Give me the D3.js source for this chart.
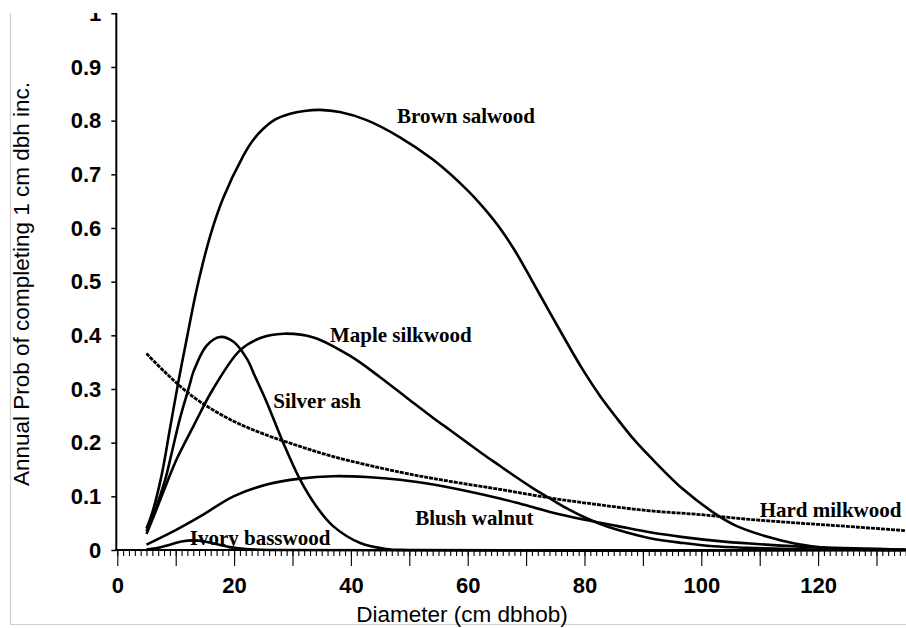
<!DOCTYPE html>
<html>
<head>
<meta charset="utf-8">
<script src="https://cdn.jsdelivr.net/npm/d3@7"></script>
<style>
  body { margin: 0; background: #fff; }
  svg { display: block; }
</style>
</head>
<body>
<svg id="chart"></svg>
<script>
// curve values: [diameter cm, annual prob]
var brownSalwood = [[5,0.04],[6,0.07],[7.6,0.14],[9,0.225],[10.4,0.31],[11.9,0.394],[13.6,0.486],[15.9,0.585],[18.1,0.655],[21.5,0.733],[23.2,0.763],[24.9,0.784],[27,0.802],[29.6,0.813],[32,0.818],[34.7,0.82],[38.1,0.816],[42.7,0.801],[48.4,0.769],[54.1,0.727],[59.8,0.672],[62.7,0.638],[65.5,0.6],[68.4,0.552],[71.2,0.498],[74.1,0.442],[76.9,0.388],[79.7,0.336],[82.6,0.288],[85.5,0.246],[88.3,0.208],[91.2,0.174],[96.9,0.113],[102.6,0.066],[106,0.045],[111.2,0.025],[116,0.012],[122,0.003],[130,0],[135,0]];
var mapleSilkwood = [[5,0.03],[6.5,0.07],[8.7,0.131],[10.2,0.17],[13,0.23],[16.4,0.3],[21,0.372],[24.5,0.395],[28.5,0.403],[33.6,0.396],[39.8,0.362],[45,0.322],[50,0.28],[54.1,0.246],[56.9,0.224],[59.8,0.201],[62.7,0.178],[65.5,0.157],[68.4,0.135],[71.2,0.115],[74.1,0.096],[76.9,0.078],[79.8,0.062],[82.6,0.049],[85.5,0.038],[91.2,0.022],[96.9,0.013],[102,0.007],[108,0.004],[120,0.001],[135,0]];
var silverAsh = [[5,0.035],[6.5,0.075],[8.2,0.131],[9.3,0.18],[10.7,0.244],[12.4,0.308],[13,0.331],[15.3,0.381],[17.6,0.397],[19.9,0.388],[22.2,0.356],[23.6,0.323],[25.6,0.275],[28.4,0.2],[31.3,0.131],[34.1,0.081],[37,0.044],[41.6,0.013],[46,0.002],[50,0],[135,0]];
var blushWalnut = [[5,0.01],[10,0.037],[14.2,0.0625],[19.9,0.1],[25.6,0.122],[31.3,0.133],[37,0.1375],[42.7,0.136],[48.4,0.131],[54.1,0.122],[59.8,0.11],[65.5,0.096],[68.4,0.088],[74.1,0.071],[79.8,0.057],[85.5,0.045],[91.2,0.033],[96.9,0.024],[102.6,0.017],[108.3,0.012],[120,0.005],[135,0.001]];
var ivoryBasswood = [[5,0.001],[7,0.004],[9,0.01],[11,0.016],[13,0.018],[15,0.016],[17,0.011],[19,0.006],[22,0.002],[26,0],[135,0]];
var hardMilkwood = [[5,0.366],[8,0.333],[11,0.303],[14.2,0.276],[19.9,0.24],[25.6,0.214],[31.3,0.193],[37,0.174],[48.4,0.145],[56.9,0.128],[65.5,0.113],[74.1,0.097],[82.7,0.084],[91.2,0.073],[99.8,0.066],[108.3,0.057],[116.9,0.05],[125,0.044],[135,0.036]];

// curve names and where their labels sit (data units)
var seriesNames = ["Brown salwood", "Maple silkwood", "Silver ash", "Blush walnut", "Ivory basswood", "Hard milkwood"];
var labelAt = [[47.9,0.795],[36.4,0.388],[26.7,0.265],[51.0,0.047],[12.4,0.009],[110.0,0.062]];

var yTicks = [0,0.1,0.2,0.3,0.4,0.5,0.6,0.7,0.8,0.9,1];
var xLabelTicks = [0,20,40,60,80,100,120];
var xTitle = "Diameter (cm dbhob)";
var yTitle = "Annual Prob of completing 1 cm dbh inc.";

// 表示サイズ
var size = { width: 906, height: 628 };
var plot = { left: 117.3, right: 905.7, top: 13.3, bottom: 550 };

var svg = d3.select("#chart")
  .attr("width", size.width)
  .attr("height", size.height);

svg.append("rect")
  .attr("width", size.width)
  .attr("height", size.height)
  .attr("fill", "#fff");

// the scan is cropped right at the top tick
svg.append("clipPath").attr("id", "crop")
  .append("rect")
    .attr("x", 0).attr("y", 13)
    .attr("width", size.width).attr("height", size.height - 13);

var g = svg.append("g").attr("clip-path", "url(#crop)");

// faint scan border
g.append("path")
  .attr("d", "M10.5,13V624.5H906")
  .attr("fill", "none")
  .attr("stroke", "#cfcfcf")
  .attr("stroke-width", 1.2);

var x = d3.scaleLinear().domain([0, 135]).range([plot.left, plot.right]);
var y = d3.scaleLinear().domain([0, 1]).range([plot.bottom, plot.top]);

var sansFont = "'Liberation Sans', Arial, sans-serif";

// y axis
var yAxis = d3.axisLeft(y)
  .tickValues(yTicks)
  .tickSize(5)
  .tickPadding(10)
  .tickFormat(function(d){ return String(+d.toFixed(1)); });

var yg = g.append("g")
  .attr("transform", "translate(" + (plot.left - 1) + ",0)")
  .call(yAxis);
yg.select(".domain").remove();
yg.selectAll("line").attr("stroke", "#000").attr("stroke-width", 1.5);
yg.selectAll("text")
  .attr("font-family", sansFont)
  .attr("font-weight", "bold")
  .attr("font-size", 22)
  .attr("fill", "#000");

g.append("line")
  .attr("x1", plot.left - 1).attr("x2", plot.left - 1)
  .attr("y1", 13).attr("y2", plot.bottom + 1)
  .attr("stroke", "#000").attr("stroke-width", 2);

// x axis: minor ticks every 1, major every 10, labels every 20
var xMinor = d3.axisBottom(x).tickValues(d3.range(0, 136, 1)).tickSize(6).tickFormat("");
var xMajor = d3.axisBottom(x).tickValues(d3.range(0, 136, 10)).tickSize(16).tickFormat("");
var xLabels = d3.axisBottom(x).tickValues(xLabelTicks).tickSize(0).tickPadding(27);

[xMinor, xMajor, xLabels].forEach(function(ax){
  var xg = g.append("g")
    .attr("transform", "translate(0," + plot.bottom + ")")
    .call(ax);
  xg.select(".domain").remove();
  xg.selectAll("line").attr("stroke", "#000").attr("stroke-width", 1.1);
  xg.selectAll("text")
    .attr("font-family", sansFont)
    .attr("font-weight", "bold")
    .attr("font-size", 22)
    .attr("fill", "#000");
});

g.append("line")
  .attr("x1", plot.left - 2).attr("x2", size.width)
  .attr("y1", plot.bottom).attr("y2", plot.bottom)
  .attr("stroke", "#000").attr("stroke-width", 2.2);

// axis titles
g.append("text")
  .attr("x", 462).attr("y", 622)
  .attr("text-anchor", "middle")
  .attr("font-family", sansFont)
  .attr("font-size", 22.5)
  .attr("fill", "#000")
  .text(xTitle);

g.append("text")
  .attr("transform", "translate(29,284) rotate(-90)")
  .attr("text-anchor", "middle")
  .attr("font-family", sansFont)
  .attr("font-size", 22.5)
  .attr("fill", "#000")
  .text(yTitle);

// curves
var line = d3.line()
  .x(function(d){ return x(d[0]); })
  .y(function(d){ return y(d[1]); })
  .curve(d3.curveCatmullRom.alpha(0.5));

var curves = [brownSalwood, mapleSilkwood, silverAsh, blushWalnut, ivoryBasswood];
curves.forEach(function(c){
  g.append("path")
    .datum(c)
    .attr("d", line)
    .attr("fill", "none")
    .attr("stroke", "#000")
    .attr("stroke-width", 2.6)
    .attr("stroke-linejoin", "round");
});

g.append("path")
  .datum(hardMilkwood)
  .attr("d", line)
  .attr("fill", "none")
  .attr("stroke", "#000")
  .attr("stroke-width", 2.8)
  .attr("stroke-dasharray", "4,1");

// curve labels
g.selectAll(".clabel")
  .data(seriesNames)
  .enter()
  .append("text")
    .attr("class", "clabel")
    .attr("x", function(d, i){ return x(labelAt[i][0]); })
    .attr("y", function(d, i){ return y(labelAt[i][1]); })
    .attr("font-family", "'Liberation Serif', 'Times New Roman', serif")
    .attr("font-weight", "bold")
    .attr("font-size", 21)
    .attr("fill", "#000")
    .text(function(d){ return d; });
</script>
</body>
</html>
